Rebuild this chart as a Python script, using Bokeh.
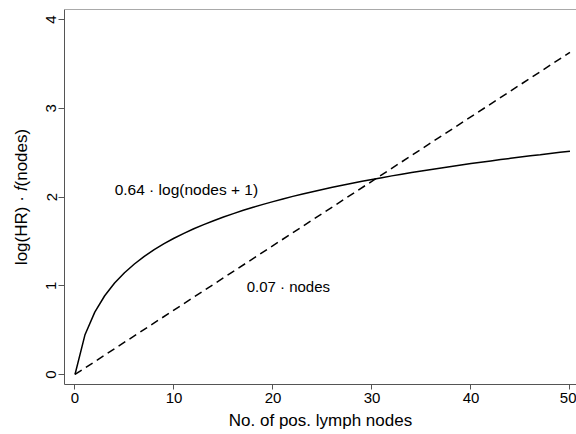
from bokeh.plotting import figure
from bokeh.models import Range1d, FixedTicker, Label, Span
from bokeh.embed import file_html
from bokeh.resources import INLINE

# ---- data ----
nodes = list(range(51))
log_effect = [0.000, 0.444, 0.703, 0.887, 1.030, 1.147, 1.245, 1.331, 1.406, 1.474,
              1.535, 1.590, 1.642, 1.689, 1.733, 1.774, 1.813, 1.850, 1.884, 1.917,
              1.948, 1.978, 2.007, 2.034, 2.060, 2.085, 2.109, 2.133, 2.155, 2.177,
              2.198, 2.218, 2.238, 2.257, 2.275, 2.293, 2.311, 2.328, 2.345, 2.361,
              2.377, 2.392, 2.407, 2.422, 2.436, 2.450, 2.464, 2.477, 2.491, 2.504,
              2.516]
linear_nodes = [0, 50]
linear_effect = [0.0, 3.63]
x_ticks = [0, 10, 20, 30, 40, 50]
y_ticks = [0, 1, 2, 3, 4]
log_label = "0.64 \u00b7 log(nodes + 1)"
lin_label = "0.07 \u00b7 nodes"
x_title = "No. of pos. lymph nodes"
y_title = "log(HR) \u00b7 \U0001D453(nodes)"

FONT = "Liberation Sans"
FRAME = "#555555"

X0, X1 = -1.06, 50.66
Y0, Y1 = -0.113, 4.113

p = figure(width=576, height=434, output_backend="svg", toolbar_location=None,
           x_range=Range1d(X0, X1), y_range=Range1d(Y0, Y1),
           min_border_left=64, min_border_right=0, min_border_top=9,
           min_border_bottom=50)
p.outline_line_color = None
p.grid.visible = False
p.background_fill_color = "white"
p.border_fill_color = "white"

p.line(nodes, log_effect, line_color="black", line_width=1.5)
p.line(linear_nodes, linear_effect, line_color="black", line_width=1.5,
       line_dash="8 5")

# axes
for ax in (p.xaxis[0], p.yaxis[0]):
    ax.axis_line_color = FRAME
    ax.major_tick_line_color = FRAME
    ax.minor_tick_line_color = None
    ax.major_tick_in = 0
    ax.major_label_text_font = FONT
    ax.major_label_text_font_size = "15px"
    ax.major_label_text_color = "black"
    ax.axis_label_text_font = FONT
    ax.axis_label_text_font_size = "17px"
    ax.axis_label_text_font_style = "normal"
    ax.axis_label_text_color = "black"

p.xaxis.ticker = FixedTicker(ticks=x_ticks)
p.yaxis.ticker = FixedTicker(ticks=y_ticks)
p.xaxis.major_tick_out = 5
p.yaxis.major_tick_out = 6
p.xaxis.major_label_standoff = 3
p.yaxis.major_label_standoff = 2
p.yaxis.major_label_orientation = "vertical"

p.xaxis.axis_label = x_title
p.xaxis.axis_label_standoff = 5
p.yaxis.axis_label = y_title
p.yaxis.axis_label_standoff = 13

# top frame line
p.add_layout(Span(location=Y1, dimension="width", line_color=FRAME, line_width=1))

# annotations
p.add_layout(Label(x=11.25, y=2.09, text=log_label, text_align="center",
                   text_baseline="middle", text_font=FONT,
                   text_font_size="15.5px", text_color="black"))
p.add_layout(Label(x=21.55, y=0.99, text=lin_label, text_align="center",
                   text_baseline="middle", text_font=FONT,
                   text_font_size="15px", text_color="black"))

open("out.html", "w").write(file_html(p, INLINE))
